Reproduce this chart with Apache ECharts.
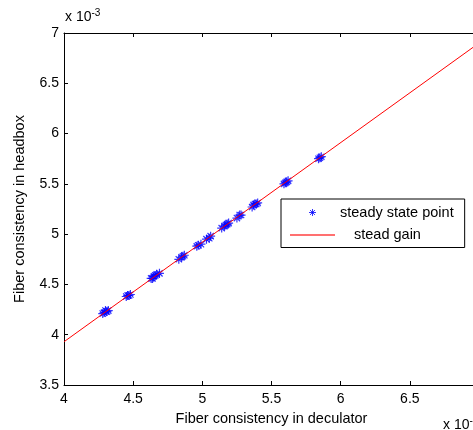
<!DOCTYPE html>
<html>
<head>
<meta charset="utf-8">
<script src="https://cdn.jsdelivr.net/npm/echarts@6/dist/echarts.min.js"></script>
<style>
  html, body { margin: 0; padding: 0; background: #fff; }
  #chart { width: 473px; height: 430px; }
</style>
</head>
<body>
<div id="chart"></div>
<script>
// Measured operating points (consistency, x 10^-3)
const steadyX = [4.28, 4.30, 4.31, 4.29, 4.32,
                 4.45, 4.46, 4.47, 4.48,
                 4.63, 4.64, 4.65, 4.66, 4.67, 4.69,
                 4.83, 4.85, 4.86, 4.87,
                 4.96, 4.97, 4.99,
                 5.03, 5.05, 5.06,
                 5.14, 5.16, 5.17, 5.18, 5.19,
                 5.25, 5.27, 5.28,
                 5.36, 5.37, 5.38, 5.39, 5.40,
                 5.59, 5.60, 5.61, 5.62,
                 5.84, 5.85, 5.86];
const steadyY = [4.21, 4.24, 4.23, 4.22, 4.24,
                 4.38, 4.39, 4.39, 4.40,
                 4.56, 4.56, 4.58, 4.59, 4.60, 4.61,
                 4.75, 4.77, 4.78, 4.79,
                 4.88, 4.89, 4.90,
                 4.95, 4.96, 4.98,
                 5.06, 5.08, 5.09, 5.10, 5.11,
                 5.16, 5.19, 5.19,
                 5.27, 5.29, 5.30, 5.30, 5.31,
                 5.50, 5.51, 5.52, 5.53,
                 5.75, 5.76, 5.77];

// Steady-state gain line
const gainX = [4.0, 7.0];
const gainY = [3.93, 6.90];

const xTicks = [4, 4.5, 5, 5.5, 6, 6.5, 7];
const yTicks = [3.5, 4, 4.5, 5, 5.5, 6, 6.5, 7];

const seriesNames = ['steady state point', 'stead gain'];

const FONT = 'Liberation Sans, Arial, sans-serif';

// MATLAB-like '*' marker: plus and cross strokes
const asterisk = 'path://M-5,0L5,0M0,-5L0,5M-3.5,-3.5L3.5,3.5M-3.5,3.5L3.5,-3.5';
// Thin bar used as the legend key of the gain line
const lineKey = 'path://M0,0L45,0L45,1.6L0,1.6Z';

const chart = echarts.init(document.getElementById('chart'), null, { renderer: 'canvas' });

const axisCommon = {
  type: 'value',
  axisLine: { show: true, lineStyle: { color: '#000', width: 1 } },
  axisTick: { show: true, inside: true, length: 4, lineStyle: { color: '#000' } },
  splitLine: { show: false },
  axisLabel: { color: '#000', fontFamily: FONT, fontSize: 14 }
};

chart.setOption({
  backgroundColor: '#fff',
  animation: false,
  grid: {
    left: 64, top: 33, width: 415, bottom: 45,
    containLabel: false,
    outerBoundsMode: 'none'
  },
  legend: {
    data: [
      {
        name: seriesNames[0], icon: asterisk,
        itemStyle: { color: '#0000ff', borderColor: '#0000ff', borderWidth: 1 }
      },
      { name: seriesNames[1], icon: lineKey, itemStyle: { color: '#ff4040', borderWidth: 0 } }
    ],
    orient: 'vertical',
    left: 281,
    top: 199,
    padding: [6, 11, 5, 9],
    itemWidth: 45,
    itemHeight: 7,
    itemGap: 7.5,
    borderColor: '#000',
    borderWidth: 1,
    backgroundColor: '#fff',
    textStyle: {
      color: '#000', fontFamily: FONT, fontSize: 14.5,
      rich: { pad: { width: 14 } }
    },
    formatter: function (name) {
      return name === seriesNames[1] ? '{pad|}' + name : name;
    }
  },
  xAxis: [
    Object.assign({}, axisCommon, {
      position: 'bottom',
      min: xTicks[0], max: xTicks[xTicks.length - 1], interval: 0.5,
      name: 'Fiber consistency in deculator',
      nameLocation: 'middle',
      nameGap: 26,
      nameTextStyle: { color: '#000', fontFamily: FONT, fontSize: 14.5 },
      axisLabel: Object.assign({}, axisCommon.axisLabel, { margin: 7 })
    }),
    Object.assign({}, axisCommon, {
      position: 'top',
      min: xTicks[0], max: xTicks[xTicks.length - 1], interval: 0.5,
      axisLabel: { show: false }
    })
  ],
  yAxis: [
    Object.assign({}, axisCommon, {
      position: 'left',
      min: yTicks[0], max: yTicks[yTicks.length - 1], interval: 0.5,
      name: 'Fiber consistency in headbox',
      nameLocation: 'middle',
      nameGap: 37,
      nameTextStyle: { color: '#000', fontFamily: FONT, fontSize: 14.5 },
      axisLabel: Object.assign({}, axisCommon.axisLabel, { margin: 5 })
    }),
    Object.assign({}, axisCommon, {
      position: 'right',
      min: yTicks[0], max: yTicks[yTicks.length - 1], interval: 0.5,
      axisLabel: { show: false }
    })
  ],
  series: [
    {
      name: seriesNames[0],
      type: 'scatter',
      xAxisIndex: 0, yAxisIndex: 0,
      symbol: asterisk,
      symbolSize: 9,
      itemStyle: { color: '#0000ff', borderColor: '#0000ff', borderWidth: 1.2 },
      data: steadyX.map((x, i) => [x, steadyY[i]])
    },
    {
      name: seriesNames[1],
      type: 'line',
      xAxisIndex: 0, yAxisIndex: 0,
      showSymbol: false,
      symbol: 'none',
      lineStyle: { color: '#ff0000', width: 1 },
      itemStyle: { color: '#ff0000' },
      data: gainX.map((x, i) => [x, gainY[i]])
    }
  ],
  graphic: [
    {
      type: 'text', left: 65, top: 8,
      style: {
        text: 'x 10{sup|-3}',
        fontFamily: FONT, fontSize: 14, fill: '#000',
        rich: { sup: { fontSize: 10, verticalAlign: 'top', padding: [0, 0, 8, 0] } }
      }
    },
    {
      type: 'text', left: 443, top: 416,
      style: {
        text: 'x 10{sup|-3}',
        fontFamily: FONT, fontSize: 14, fill: '#000',
        rich: { sup: { fontSize: 10, verticalAlign: 'top', padding: [0, 0, 8, 0] } }
      }
    }
  ]
});
</script>
</body>
</html>
